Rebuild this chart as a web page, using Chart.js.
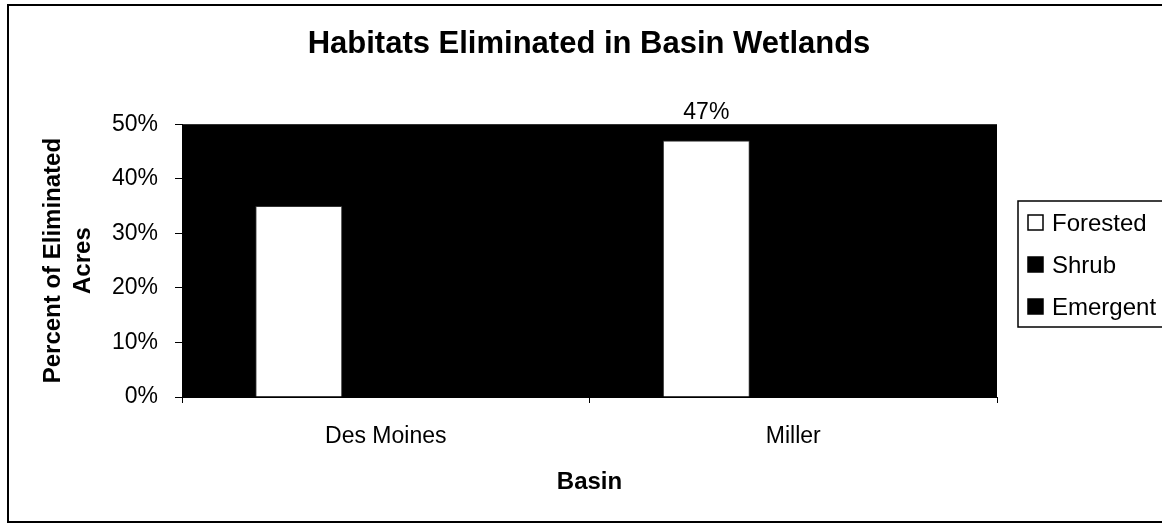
<!DOCTYPE html>
<html>
<head>
<meta charset="utf-8">
<title>Habitats Eliminated in Basin Wetlands</title>
<script src="https://cdn.jsdelivr.net/npm/chart.js@4.4.1/dist/chart.umd.min.js"></script>
<style>
  html, body { margin: 0; padding: 0; background: #fff; overflow: hidden; }
  canvas { display: block; }
</style>
</head>
<body>
<canvas id="meuGrafico" width="1162" height="526"></canvas>
<script>
// Dados do gráfico
const basins = ['Des Moines', 'Miller'];
const forested = [35, 47];
const shrub = [27, 28];
const emergent = [38, 25];
const yTicks = [0, 10, 20, 30, 40, 50];

const fonte = "'Liberation Sans', Arial, sans-serif";

// Fundo preto da área do gráfico e moldura externa
const fundoPlugin = {
  id: 'fundo',
  beforeDraw(chart) {
    const { ctx, chartArea } = chart;
    ctx.save();
    ctx.fillStyle = '#000';
    ctx.fillRect(chartArea.left, chartArea.top, chartArea.right - chartArea.left, chartArea.bottom - chartArea.top);
    // moldura
    ctx.strokeStyle = '#000';
    ctx.lineWidth = 2;
    ctx.strokeRect(8, 5, 1170, 517);
    ctx.restore();
  }
};

// Rótulos de valor (só os que ficam fora da área escura aparecem no original)
const rotulosPlugin = {
  id: 'rotulos',
  afterDatasetsDraw(chart) {
    const { ctx, chartArea } = chart;
    ctx.save();
    ctx.font = '23px ' + fonte;
    ctx.fillStyle = '#000';
    ctx.textAlign = 'center';
    ctx.textBaseline = 'alphabetic';
    chart.data.datasets.forEach((ds, i) => {
      chart.getDatasetMeta(i).data.forEach((bar, j) => {
        const y = bar.y - 22;
        if (y > chartArea.top) return;  // cairia sobre o fundo preto
        ctx.fillText(ds.data[j] + '%', bar.x, y);
      });
    });
    ctx.restore();
  }
};

// Legenda com caixa, à direita
const legendaPlugin = {
  id: 'legenda',
  afterDraw(chart) {
    const { ctx } = chart;
    ctx.save();
    ctx.strokeStyle = '#000';
    ctx.lineWidth = 1.5;
    ctx.strokeRect(1018, 201, 170, 126);
    ctx.font = '24px ' + fonte;
    ctx.textAlign = 'left';
    ctx.textBaseline = 'middle';
    chart.data.datasets.forEach((ds, i) => {
      const cy = 223 + i * 42;
      ctx.fillStyle = ds.backgroundColor;
      ctx.fillRect(1028, cy - 8, 15, 15);
      ctx.lineWidth = 1.5;
      ctx.strokeRect(1028, cy - 8, 15, 15);
      ctx.fillStyle = '#000';
      ctx.fillText(ds.label, 1052, cy + 1);
    });
    ctx.restore();
  }
};

const ctx = document.getElementById('meuGrafico').getContext('2d');

new Chart(ctx, {
  type: 'bar',
  data: {
    labels: basins,
    datasets: [
      { label: 'Forested', data: forested, backgroundColor: '#fff', borderColor: '#333', borderWidth: 1 },
      { label: 'Shrub', data: shrub, backgroundColor: '#000', borderWidth: 0 },
      { label: 'Emergent', data: emergent, backgroundColor: '#000', borderWidth: 0 }
    ]
  },
  options: {
    responsive: false,
    animation: false,
    layout: { padding: { left: 16, right: 0, top: 0, bottom: 0 } },
    datasets: { bar: { categoryPercentage: 0.64, barPercentage: 1 } },
    plugins: {
      legend: { display: false },
      tooltip: { enabled: false },
      title: {
        display: true,
        text: 'Habitats Eliminated in Basin Wetlands',
        color: '#000',
        font: { family: fonte, size: 31, weight: 'bold', lineHeight: 1.2 },
        padding: { top: 26, bottom: 61 }
      }
    },
    scales: {
      x: {
        grid: { drawOnChartArea: false, drawTicks: true, tickLength: 6, color: '#000' },
        border: { color: '#000', width: 1 },
        ticks: { color: '#000', font: { family: fonte, size: 23 }, padding: 20 },
        title: {
          display: true,
          text: 'Basin',
          color: '#000',
          font: { family: fonte, size: 24, weight: 'bold', lineHeight: 1.2 },
          padding: { top: 0, bottom: 29 }
        },
        afterFit(scale) { scale.height = 129; }
      },
      y: {
        min: 0,
        max: 50,
        afterBuildTicks(scale) { scale.ticks = yTicks.map(v => ({ value: v })); },
        grid: { drawOnChartArea: false, drawTicks: true, tickLength: 7, color: '#000' },
        border: { color: '#000', width: 1 },
        ticks: {
          color: '#000',
          font: { family: fonte, size: 23 },
          padding: 17,
          callback: v => v + '%'
        },
        title: {
          display: true,
          text: ['Percent of Eliminated', 'Acres'],
          color: '#000',
          font: { family: fonte, size: 24, weight: 'bold', lineHeight: 1.25 },
          padding: { top: 22, bottom: 0 }
        },
        afterFit(scale) { scale.width = 166; }
      },
      // eixo vazio à direita que reserva o espaço da legenda
      espaco: {
        type: 'linear',
        position: 'right',
        grid: { display: false },
        border: { display: false },
        ticks: { display: false },
        afterFit(scale) { scale.width = 165; }
      }
    }
  },
  plugins: [fundoPlugin, rotulosPlugin, legendaPlugin]
});
</script>
</body>
</html>
